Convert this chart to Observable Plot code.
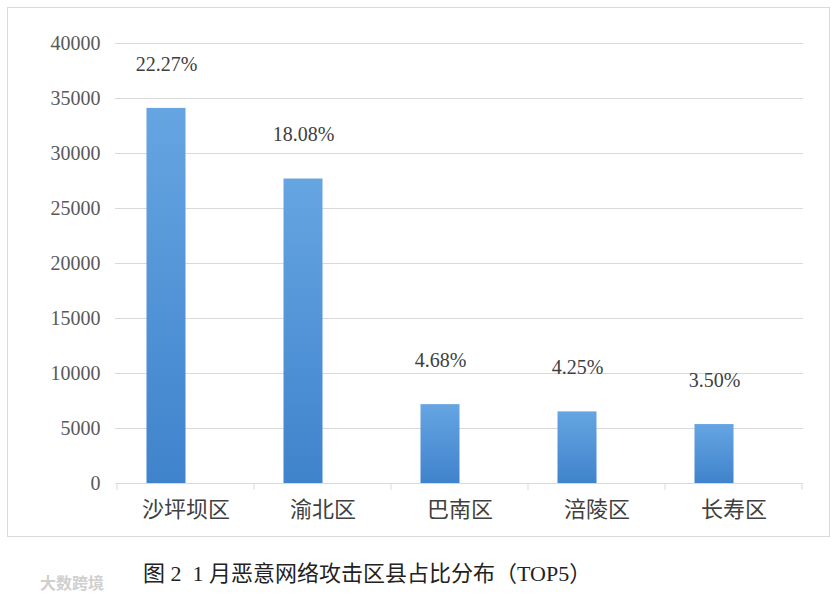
<!DOCTYPE html>
<html>
<head>
<meta charset="utf-8">
<script src="https://cdn.jsdelivr.net/npm/d3@7"></script>
<script src="https://cdn.jsdelivr.net/npm/@observablehq/plot@0.6"></script>
<style>
  html, body { margin: 0; padding: 0; background: #fff; }
  body { width: 838px; height: 601px; position: relative; overflow: hidden; }
  #frame { position: absolute; left: 7px; top: 7px; width: 821px; height: 528px; border: 1px solid #d9d9d9; box-sizing: content-box; }
  #chart { position: absolute; left: 0; top: 0; }
  #caption { position: absolute; left: 143px; top: 562px; font-size: 22px; line-height: 24px; white-space: pre;
             font-family: "Liberation Serif", "Noto Sans CJK SC", serif; color: #222; }
  #mark { position: absolute; left: 40px; top: 573px; font-size: 16px; line-height: 18px; color: #cfcfcf;
          font-family: "Noto Sans CJK SC", sans-serif; font-weight: bold; }
</style>
</head>
<body>
<div id="frame"></div>
<div id="chart"></div>
<div id="mark"></div>
<div id="caption"></div>
<script>
const districts = ["沙坪坝区", "渝北区", "巴南区", "涪陵区", "长寿区"];
const attacks = [34100, 27680, 7170, 6510, 5360];
const shares = ["22.27%", "18.08%", "4.68%", "4.25%", "3.50%"];
const yTicks = [0, 5000, 10000, 15000, 20000, 25000, 30000, 35000, 40000];
const captionText = "图 2  1 月恶意网络攻击区县占比分布（TOP5）";
const sourceText = "大数跨境";

const data = districts.map((d, i) => ({district: d, value: attacks[i], share: shares[i]}));

const font = "'Liberation Serif', 'Noto Sans CJK SC', serif";
const pi = 1 - 39 / 137.6;

const plot = Plot.plot({
  width: 838,
  height: 545,
  marginLeft: 115,
  marginRight: 35,
  marginTop: 43,
  marginBottom: 62,
  style: {fontFamily: font, background: "transparent", overflow: "visible"},
  x: {domain: districts, paddingInner: pi, paddingOuter: pi / 2, label: null},
  y: {domain: [0, 40000], label: null},
  marks: [
    Plot.gridY(yTicks, {stroke: "#d9d9d9", strokeOpacity: 1, strokeWidth: 1}),
    Plot.barY(data, {x: "district", y: "value", fill: "#5b9bd5", dx: -19.5}),
    Plot.ruleY([0], {stroke: "#d9d9d9", strokeWidth: 1}),
    Plot.axisY(yTicks, {tickSize: 0, tickPadding: 15, fontSize: 20, fill: "#595959", label: null,
                        tickFormat: d3.format("d")}),
    Plot.axisX({tickSize: 0, tickPadding: 18, fontSize: 22, fill: "#404040", label: null,
                fontFamily: "'Noto Sans CJK SC', sans-serif"}),
    Plot.text(data, {x: "district", y: "value", text: "share", dy: -44, dx: -19.5, fontSize: 20, fill: "#404040"})
  ]
});

document.getElementById("chart").appendChild(plot);

// gradient fill for bars (Excel-like)
const svg = d3.select(plot);
const defs = svg.insert("defs", ":first-child");
const grad = defs.append("linearGradient").attr("id", "barGrad")
  .attr("x1", 0).attr("y1", 0).attr("x2", 0).attr("y2", 1);
grad.append("stop").attr("offset", "0%").attr("stop-color", "#66a5e2");
grad.append("stop").attr("offset", "100%").attr("stop-color", "#3f83cc");
svg.selectAll("g[aria-label='bar'] rect").attr("fill", "url(#barGrad)");

// category boundary ticks on the x axis, positioned via the band scale
const xs = plot.scale("x");
const ys = plot.scale("y");
const y0 = ys.apply(0);
const bounds = districts.map(d => xs.apply(d) + xs.bandwidth / 2 - xs.step / 2);
bounds.push(xs.apply(districts[districts.length - 1]) + xs.bandwidth / 2 + xs.step / 2);
svg.append("g").attr("stroke", "#d9d9d9")
  .selectAll("line").data(bounds).join("line")
  .attr("x1", d => d).attr("x2", d => d)
  .attr("y1", y0).attr("y2", y0 + 7);

document.getElementById("caption").textContent = captionText;
document.getElementById("mark").textContent = sourceText;
</script>
</body>
</html>
